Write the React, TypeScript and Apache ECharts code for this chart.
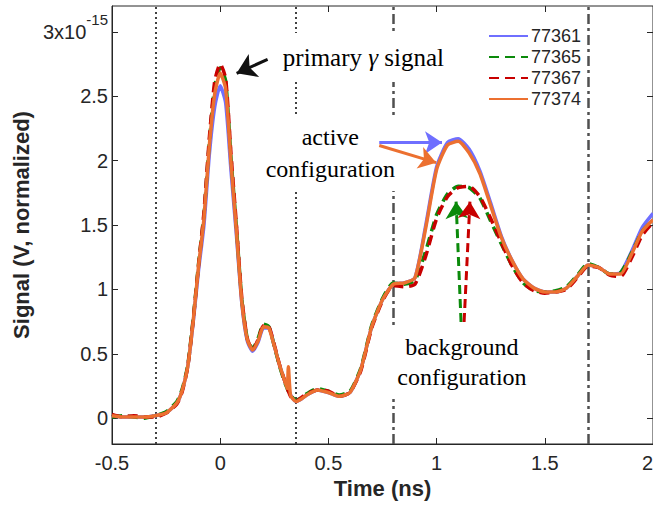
import React, { useEffect, useRef } from "react";
import * as echarts from "echarts";

const SANS = '"Liberation Sans", Arial, Helvetica, sans-serif';
const SERIF = '"Liberation Serif", "Times New Roman", serif';
const INK = "#262626";

// Time (ns)
const xs = [
  -0.5, -0.45, -0.4, -0.35, -0.3, -0.25, -0.2, -0.175, -0.15, -0.125, -0.1, -0.075, -0.05, -0.025,
  0, 0.025, 0.05, 0.075, 0.1, 0.125, 0.15, 0.175, 0.2, 0.225, 0.25, 0.275, 0.3, 0.31, 0.315, 0.325,
  0.35, 0.375, 0.4, 0.45, 0.5, 0.55, 0.6, 0.65, 0.7, 0.75, 0.8, 0.85, 0.9, 0.95, 1.0, 1.05, 1.1,
  1.15, 1.2, 1.25, 1.3, 1.35, 1.4, 1.45, 1.5, 1.55, 1.6, 1.65, 1.7, 1.75, 1.8, 1.85, 1.9, 1.95, 2.0,
];

// Signal in units of 1e-15 V (normalized)
const s77361 = [
  0.02, 0.01, 0.01, 0.01, 0.02, 0.04, 0.12, 0.22, 0.4, 0.74, 1.15, 1.5, 2.05, 2.42,
  2.58, 2.45, 1.92, 1.42, 0.89, 0.6, 0.52, 0.59, 0.7, 0.7, 0.56, 0.41, 0.28, 0.24, 0.22, 0.18,
  0.13, 0.15, 0.18, 0.22, 0.2, 0.17, 0.2, 0.38, 0.71, 0.92, 1.04, 1.05, 1.09, 1.5, 1.95, 2.14, 2.17,
  2.09, 1.92, 1.67, 1.41, 1.22, 1.08, 1.01, 0.98, 0.98, 1.01, 1.1, 1.19, 1.17, 1.12, 1.13, 1.29, 1.48, 1.59,
];
const s77365 = [
  0.01, 0.02, 0.01, 0.0, 0.02, 0.05, 0.13, 0.23, 0.41, 0.77, 1.2, 1.58, 2.15, 2.58,
  2.72, 2.62, 2.02, 1.48, 0.92, 0.62, 0.54, 0.62, 0.73, 0.71, 0.56, 0.4, 0.27, 0.23, 0.21, 0.18,
  0.14, 0.16, 0.19, 0.23, 0.21, 0.18, 0.21, 0.39, 0.72, 0.93, 1.05, 1.04, 1.07, 1.3, 1.58, 1.74, 1.8,
  1.79, 1.71, 1.53, 1.35, 1.18, 1.05, 0.99, 0.98, 0.99, 1.02, 1.11, 1.2, 1.17, 1.12, 1.13, 1.28, 1.45, 1.54,
];
const s77367 = [
  0.03, 0.01, 0.02, 0.01, 0.01, 0.04, 0.11, 0.21, 0.4, 0.76, 1.19, 1.6, 2.18, 2.62,
  2.75, 2.64, 2.05, 1.5, 0.93, 0.62, 0.53, 0.61, 0.72, 0.71, 0.57, 0.41, 0.28, 0.23, 0.21, 0.17,
  0.13, 0.16, 0.19, 0.22, 0.21, 0.17, 0.2, 0.37, 0.7, 0.91, 1.03, 1.02, 1.04, 1.26, 1.55, 1.72, 1.79,
  1.8, 1.72, 1.55, 1.36, 1.18, 1.05, 0.99, 0.97, 0.98, 1.0, 1.09, 1.18, 1.17, 1.11, 1.1, 1.24, 1.42, 1.52,
];
const s77374 = [
  0.02, 0.01, 0.01, 0.01, 0.02, 0.04, 0.12, 0.22, 0.4, 0.75, 1.18, 1.55, 2.12, 2.52,
  2.68, 2.56, 1.98, 1.45, 0.9, 0.61, 0.53, 0.6, 0.71, 0.7, 0.56, 0.41, 0.28, 0.23, 0.4, 0.18,
  0.13, 0.15, 0.18, 0.22, 0.2, 0.17, 0.2, 0.38, 0.71, 0.92, 1.04, 1.05, 1.09, 1.48, 1.93, 2.12, 2.15,
  2.06, 1.9, 1.65, 1.4, 1.22, 1.08, 1.01, 0.98, 0.98, 1.01, 1.1, 1.19, 1.17, 1.12, 1.12, 1.27, 1.45, 1.54,
];

const seriesNames = ["77361", "77365", "77367", "77374"];
const seriesColors = ["#6f6fff", "#0b8a0b", "#c80000", "#ec7030"];

const xTicks = [-0.5, 0, 0.5, 1, 1.5, 2];
const yTicks = [0, 0.5, 1, 1.5, 2, 2.5, 3];

// vertical reference lines (ns)
const dottedLines = [-0.3, 0.35];
const dashDotLines = [0.8, 1.7];

// annotation arrows in data coordinates: [x1, y1, x2, y2]
const arrowPrimary = [0.219, 2.786, 0.076, 2.677];
const arrowActiveBlue = [0.735, 2.14, 1.025, 2.14];
const arrowActiveOrange = [0.735, 2.117, 0.998, 1.984];
const arrowBgGreen = [1.113, 0.747, 1.09, 1.681];
const arrowBgRed = [1.127, 0.747, 1.154, 1.681];

// annotation texts: centre in data coordinates
const labelPrimary = { x: 0.662, y: 2.8 };
const labelActive = { x: 0.509, y: 2.058 };
const labelBackground = { x: 1.117, y: 0.436 };

export default function App() {
  const ref = useRef<HTMLDivElement>(null);

  useEffect(() => {
    if (!ref.current) return;
    const chart = echarts.init(ref.current, undefined, { renderer: "svg" });

    const allY = [s77361, s77365, s77367, s77374];
    const arrowItem = (a: number[], color: string, dashed: boolean, size: number) => [
      {
        coord: [a[0], a[1]],
        symbol: "none",
        lineStyle: { color, width: 3, type: dashed ? [9, 5] : "solid" },
        itemStyle: { color },
      },
      { coord: [a[2], a[3]], symbol: "arrow", symbolSize: size, itemStyle: { color } },
    ];

    const series: any[] = seriesNames.map((name, k) => ({
      type: "line",
      name,
      data: xs.map((x, i) => [x, allY[k][i]]),
      symbol: "none",
      showSymbol: false,
      smooth: 0.2,
      z: 2 + k,
      lineStyle: {
        color: seriesColors[k],
        width: 3.5,
        type: k === 1 || k === 2 ? [10, 6] : "solid",
      },
      itemStyle: { color: seriesColors[k] },
    }));

    series[0].markLine = {
      silent: true,
      z: 1,
      symbol: ["none", "none"],
      label: { show: false },
      emphasis: { disabled: true },
      data: [
        ...dottedLines.map((v) => ({
          xAxis: v,
          lineStyle: { color: "#404040", width: 2, type: [2, 3] },
        })),
        ...dashDotLines.map((v) => ({
          xAxis: v,
          lineStyle: { color: "#505050", width: 2.5, type: [10, 4, 3, 4] },
        })),
      ],
    };

    series[3].markLine = {
      silent: true,
      z: 10,
      symbol: ["none", "arrow"],
      symbolSize: 17,
      label: { show: false },
      emphasis: { disabled: true },
      data: [
        arrowItem(arrowPrimary, "#111111", false, 19),
        arrowItem(arrowActiveBlue, seriesColors[0], false, 17),
        arrowItem(arrowActiveOrange, seriesColors[3], false, 17),
        arrowItem(arrowBgGreen, seriesColors[1], true, 17),
        arrowItem(arrowBgRed, seriesColors[2], true, 17),
      ],
    };

    const option: any = {
      animation: false,
      backgroundColor: "#ffffff",
      grid: {
        left: 112,
        top: 6,
        right: 0,
        bottom: 62,
        show: true,
        borderColor: INK,
        borderWidth: 1,
        backgroundColor: "transparent",
        containLabel: false,
        outerBoundsMode: "none",
      },
      legend: {
        data: seriesNames,
        orient: "vertical",
        left: 483,
        top: 22,
        itemWidth: 39,
        itemHeight: 14,
        itemGap: 3,
        itemStyle: { opacity: 0 },
        textStyle: { fontSize: 18, fontFamily: SANS, color: INK, padding: [0, 0, 0, -2] },
      },
      xAxis: [
        {
          type: "value",
          min: -0.5,
          max: 2,
          interval: 0.5,
          position: "bottom",
          axisLine: { show: true, onZero: false, lineStyle: { color: INK } },
          axisTick: { show: true, inside: true, length: 6, lineStyle: { color: INK } },
          axisLabel: {
            color: INK,
            fontSize: 20,
            fontFamily: SANS,
            margin: 9,
            customValues: xTicks,
            alignMaxLabel: "right",
          },
          splitLine: { show: false },
          name: "Time (ns)",
          nameLocation: "middle",
          nameGap: 33,
          nameTextStyle: { fontWeight: "bold", fontSize: 22, color: INK, fontFamily: SANS },
        },
        {
          type: "value",
          min: -0.5,
          max: 2,
          interval: 0.5,
          position: "top",
          axisLine: { show: false, onZero: false },
          axisTick: { show: true, inside: true, length: 6, lineStyle: { color: INK } },
          axisLabel: { show: false },
          splitLine: { show: false },
        },
      ],
      yAxis: [
        {
          type: "value",
          min: -0.2,
          max: 3.2,
          position: "left",
          axisLine: { show: true, onZero: false, lineStyle: { color: INK } },
          axisTick: {
            show: true,
            inside: true,
            length: 6,
            lineStyle: { color: INK },
            customValues: yTicks,
          },
          axisLabel: {
            color: INK,
            fontSize: 20,
            fontFamily: SANS,
            margin: 4,
            customValues: yTicks,
            formatter: (v: number) => (v === 3 ? "{b|3x10}{s|-15}" : String(v)),
            rich: {
              b: { fontSize: 20, fontFamily: SANS, color: INK },
              s: { fontSize: 15, fontFamily: SANS, color: INK, padding: [0, 0, 24, 0] },
            },
          },
          splitLine: { show: false },
          name: "Signal (V, normalized)",
          nameLocation: "middle",
          nameGap: 80,
          nameTextStyle: { fontWeight: "bold", fontSize: 22, color: INK, fontFamily: SANS },
        },
        {
          type: "value",
          min: -0.2,
          max: 3.2,
          position: "right",
          axisLine: { show: false, onZero: false },
          axisTick: {
            show: true,
            inside: true,
            length: 6,
            lineStyle: { color: INK },
            customValues: yTicks,
          },
          axisLabel: { show: false, customValues: yTicks },
          splitLine: { show: false },
        },
      ],
      series,
    };

    chart.setOption(option);

    const toPx = (p: { x: number; y: number }) =>
      chart.convertToPixel({ xAxisIndex: 0, yAxisIndex: 0 }, [p.x, p.y]) as number[];

    const pPrimary = toPx(labelPrimary);
    const pActive = toPx(labelActive);
    const pBg = toPx(labelBackground);

    chart.setOption({
      graphic: [
        {
          type: "text",
          x: pPrimary[0],
          y: pPrimary[1],
          z: 5,
          silent: true,
          style: {
            text: "{n|primary }{g|γ}{n| signal}",
            fill: "#000",
            fontSize: 25,
            fontFamily: SERIF,
            align: "center",
            verticalAlign: "middle",
            backgroundColor: "#ffffff",
            padding: [12, 4],
            rich: {
              n: { fontSize: 25, fontFamily: SERIF, fill: "#000" },
              g: { fontSize: 25, fontFamily: SERIF, fontStyle: "italic", fill: "#000" },
            },
          },
        },
        {
          type: "text",
          x: pActive[0],
          y: pActive[1],
          z: 5,
          silent: true,
          style: {
            text: "active\nconfiguration",
            fill: "#000",
            fontSize: 24,
            fontFamily: SERIF,
            lineHeight: 32,
            align: "center",
            verticalAlign: "middle",
            backgroundColor: "#ffffff",
            padding: [6, 4],
          },
        },
        {
          type: "text",
          x: pBg[0],
          y: pBg[1],
          z: 5,
          silent: true,
          style: {
            text: "background\nconfiguration",
            fill: "#000",
            fontSize: 24,
            fontFamily: SERIF,
            lineHeight: 30,
            align: "center",
            verticalAlign: "middle",
            backgroundColor: "#ffffff",
            padding: [7, 8],
          },
        },
      ],
    });

    return () => chart.dispose();
  }, []);

  return (
    <div
      ref={ref}
      style={{ position: "fixed", left: 0, top: 0, width: 653, height: 506, background: "#fff" }}
    />
  );
}
